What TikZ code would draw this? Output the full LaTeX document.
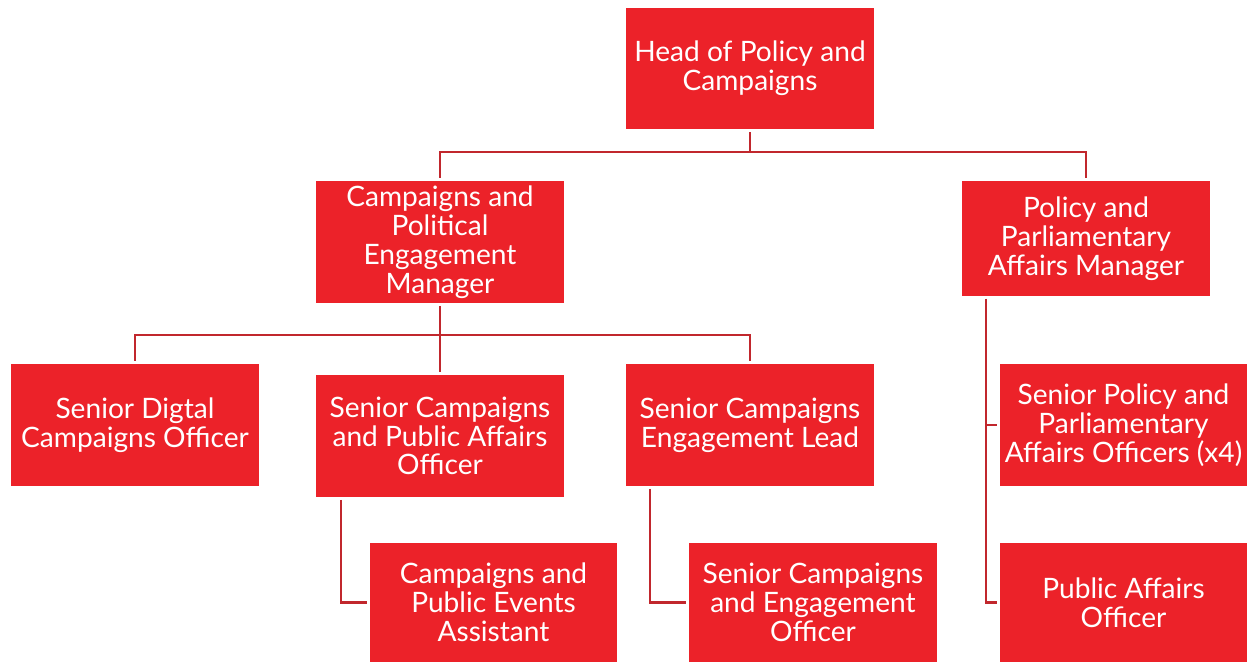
\documentclass[tikz,border=0pt]{standalone}
\usepackage{fontspec}
\setmainfont{Lato}
\definecolor{boxred}{HTML}{EC2229}
\definecolor{linered}{HTML}{C1272D}
\tikzstyle{post} = [rectangle, fill=boxred, text=white, align=center,
    minimum width=4.96cm, minimum height=2.44cm, inner sep=0pt, outer sep=1.6pt,
    font=\fontsize{16}{16.4}\selectfont]
\tikzstyle{line} = [draw, linered, line width=1.3pt]

\begin{document}
\begin{tikzpicture}[x=0.02cm, y=-0.02cm]
	\useasboundingbox (0,0) rectangle (1247,662);

		\node [post] (head) at (750,68.5) {Head of Policy and\\Campaigns};

		\node [post] (cpem) at (440,242) {Campaigns and\\Political\\Engagement\\Manager};
		\node [post, minimum height=2.3cm] (ppam) at (1086,238.5) {Policy and\\Parliamentary\\Affairs Manager};

		\node [post] (sdco) at (135,425) {Senior Digtal\\Campaigns Officer};
		\node [post] (scpao) at (440,436) {Senior Campaigns\\and Public Affairs\\Officer};
		\node [post] (scel) at (750,425) {Senior Campaigns\\Engagement Lead};
		\node [post, minimum width=4.94cm] (sppao) at (1123.5,425) {Senior Policy and\\Parliamentary\\Affairs Officers (x4)};

		\node [post, minimum height=2.38cm] (cpea) at (493.5,602.5) {Campaigns and\\Public Events\\Assistant};
		\node [post, minimum height=2.38cm] (scaeo) at (813,602.5) {Senior Campaigns\\and Engagement\\Officer};
		\node [post, minimum width=4.94cm, minimum height=2.38cm] (pao) at (1123.5,602.5) {Public Affairs\\Officer};

		% junctions
		\coordinate (j1) at (750,152);
		\coordinate (j2) at (440,335);
		\coordinate (j3) at ([xshift=0.56cm]scpao.south west);
		\coordinate (j4) at ([xshift=0.54cm]scel.south west);
		\coordinate (j5) at ([xshift=0.54cm]ppam.south west);

		\path [line] (head) -- (j1);
		\path [line] (j1) -| (cpem);
		\path [line] (j1) -| (ppam);
		\path [line] (cpem) -- (scpao);
		\path [line] (j2) -| (sdco);
		\path [line] (j2) -| (scel);
		\path [line] (j3) |- (cpea.west);
		\path [line] (j4) |- (scaeo.west);
		\path [line] (j5) |- (sppao.west);
		\path [line] (j5) |- (pao.west);
	\end{tikzpicture}
\end{document}
